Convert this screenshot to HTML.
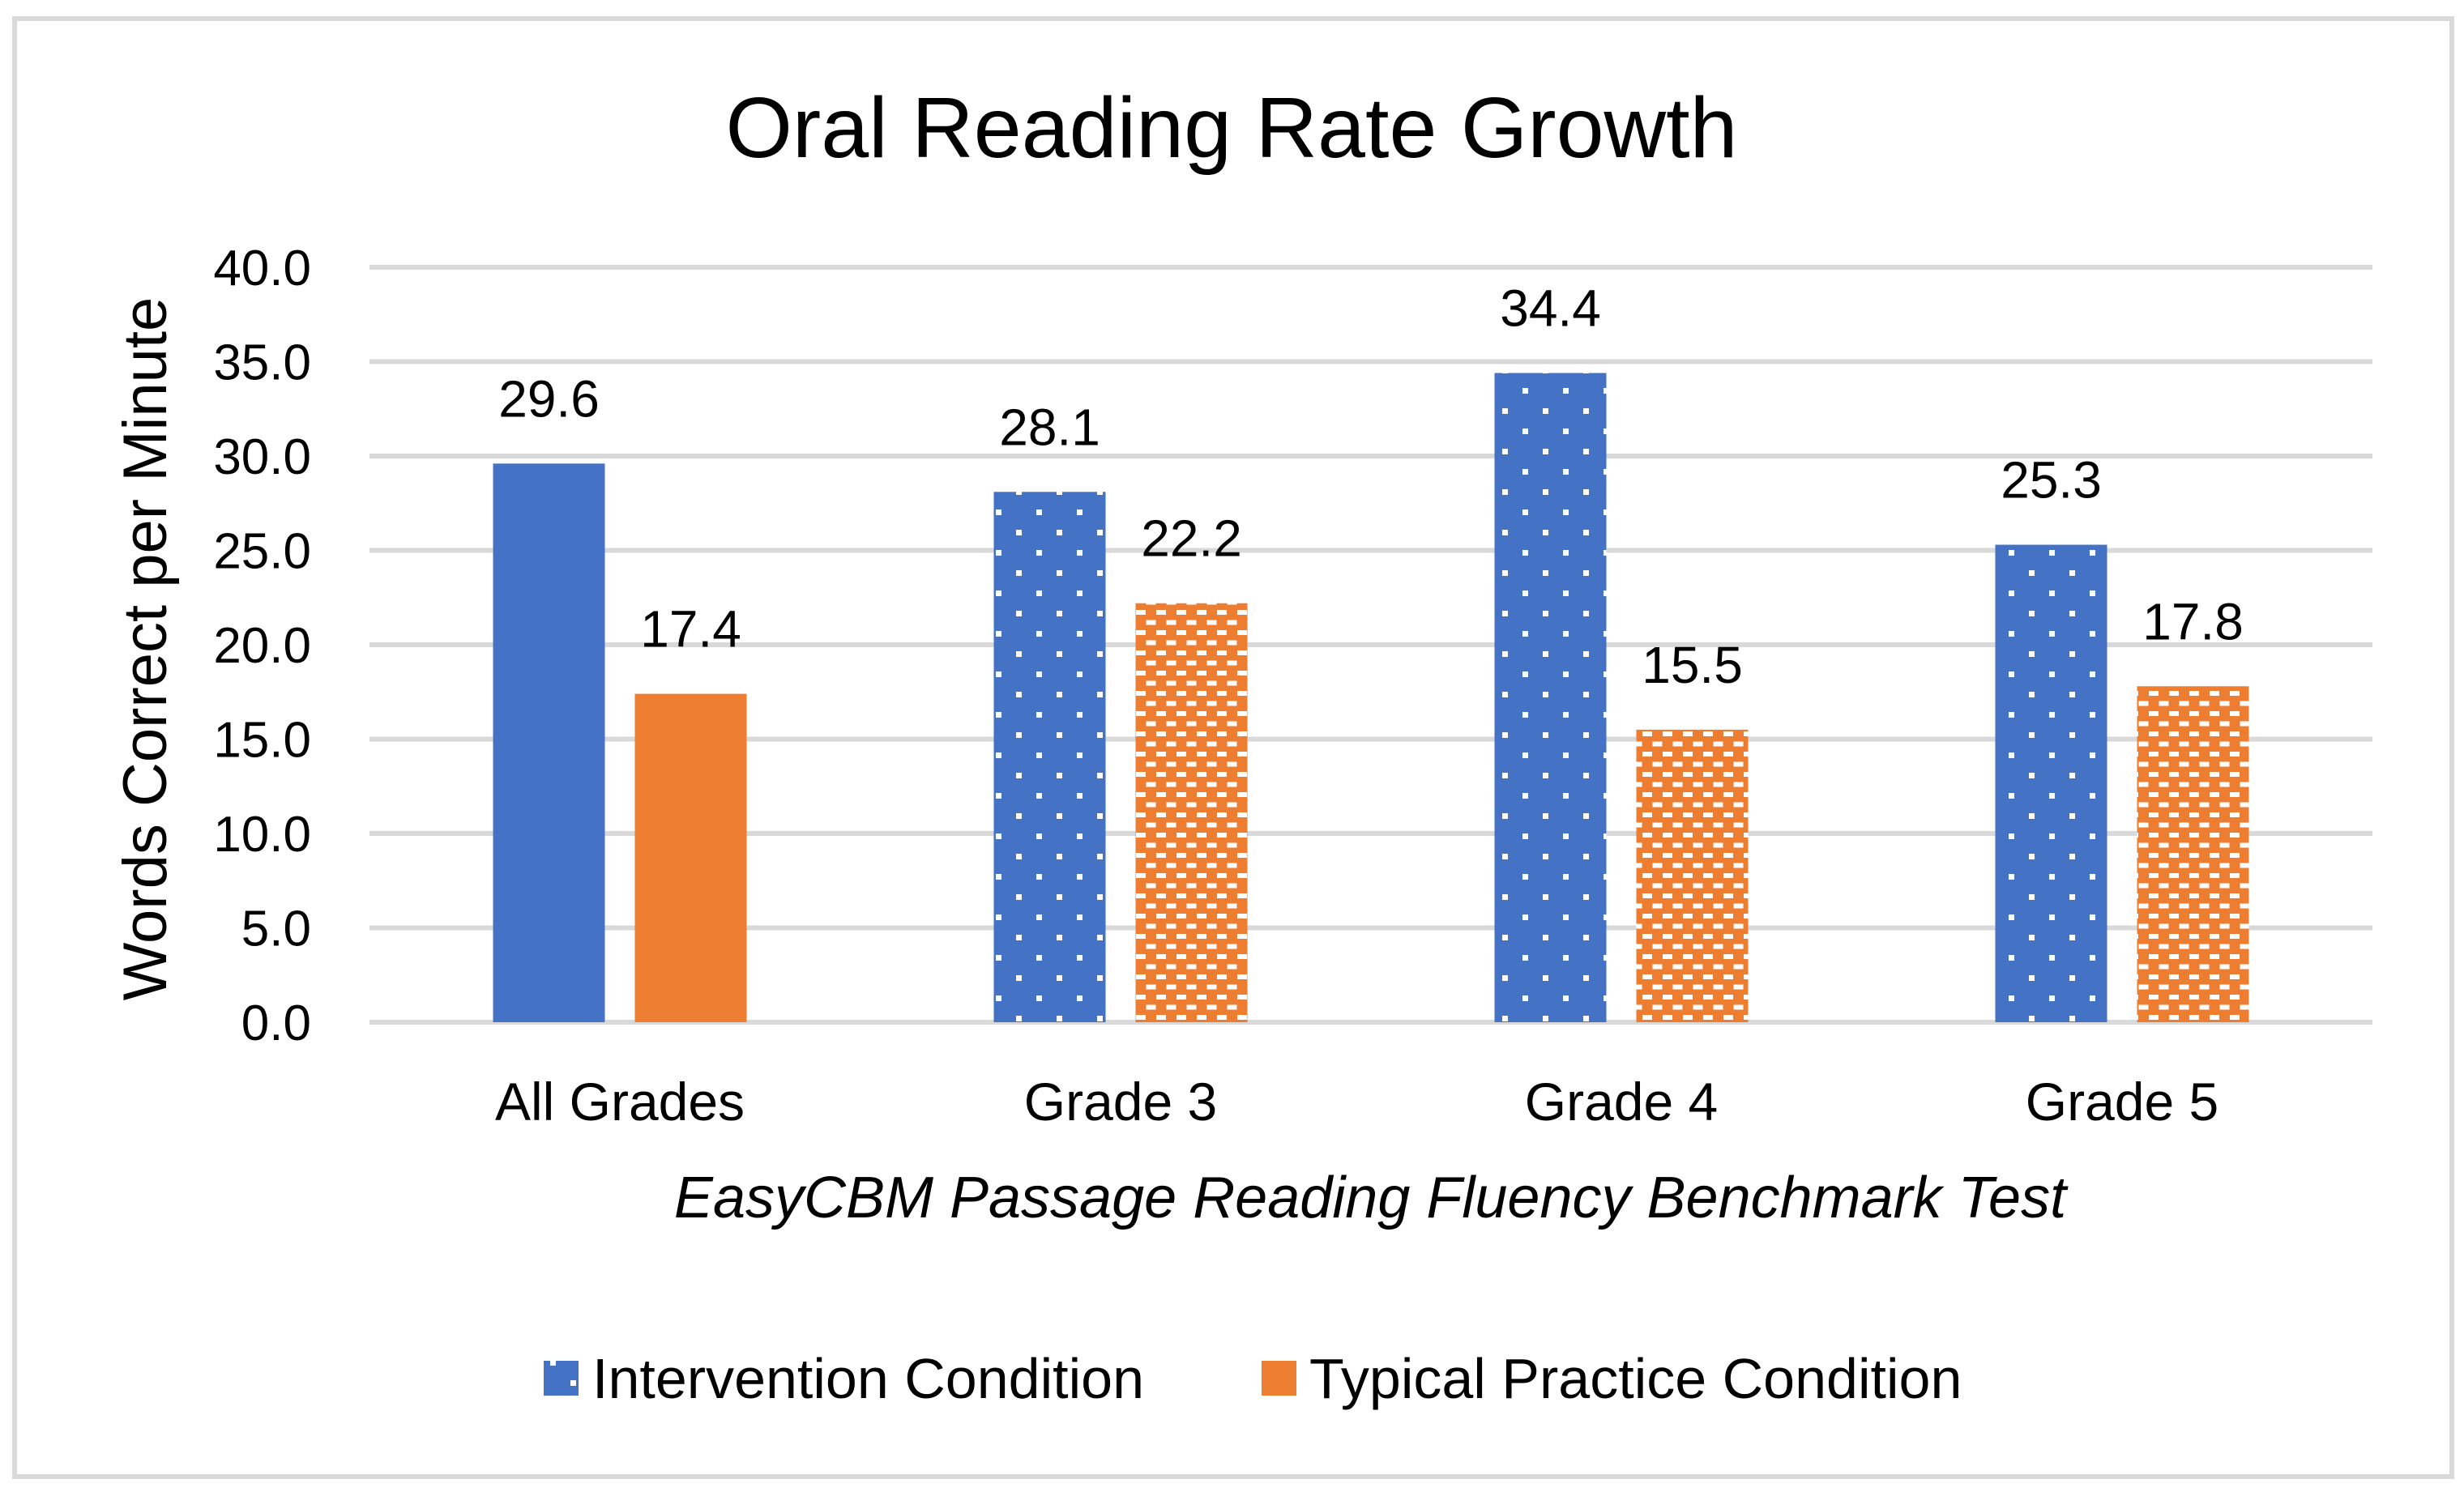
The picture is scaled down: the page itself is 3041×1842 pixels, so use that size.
<!DOCTYPE html>
<html><head><meta charset="utf-8"><style>
html,body{margin:0;padding:0;background:#fff;}
svg{display:block;font-family:"Liberation Sans","DejaVu Sans",sans-serif;}
</style></head><body>
<svg id="chart" width="3041" height="1842" viewBox="0 0 3041 1842" xmlns="http://www.w3.org/2000/svg">
<defs>
<pattern id="dots" width="50" height="50" patternUnits="userSpaceOnUse">
<rect width="50" height="50" fill="#4472c4"/>
<rect x="4" y="4" width="7" height="7" fill="#fff"/>
<rect x="29" y="29" width="7" height="7" fill="#fff"/>
</pattern>
<pattern id="dashes" width="25" height="25" patternUnits="userSpaceOnUse">
<rect width="25" height="25" fill="#ed7d31"/>
<rect x="2" y="3" width="12" height="6" fill="#fff"/>
<rect x="14.5" y="15.5" width="12" height="6" fill="#fff"/>
<rect x="-10.5" y="15.5" width="12" height="6" fill="#fff"/>
</pattern>
</defs>
<rect x="18" y="23" width="3008" height="1800" fill="#fff" stroke="#d9d9d9" stroke-width="6"/>
<text x="1520" y="194" font-size="106" text-anchor="middle" fill="#000">Oral Reading Rate Growth</text>
<g id="grid"></g>
<g id="bars"></g>
<text transform="translate(205,801) rotate(-90)" font-size="76" text-anchor="middle" fill="#000">Words Correct per Minute</text>
<text x="1691" y="1503" font-size="72" font-style="italic" text-anchor="middle" fill="#000">EasyCBM Passage Reading Fluency Benchmark Test</text>
<g>
<g>
<rect x="671" y="1680" width="43" height="43" fill="url(#dots)"/>
<text x="731" y="1726" font-size="70" fill="#000">Intervention Condition</text>
</g>
<g>
<rect x="1557" y="1680" width="43" height="43" fill="#ed7d31"/>
<text x="1616" y="1726" font-size="70" fill="#000">Typical Practice Condition</text>
</g>
</g>
</svg>
<script>
const categories = ["All Grades","Grade 3","Grade 4","Grade 5"];
const intervention = [29.6, 28.1, 34.4, 25.3];
const typical = [17.4, 22.2, 15.5, 17.8];
const yTicks = [0,5,10,15,20,25,30,35,40];

const NS = "http://www.w3.org/2000/svg";
const plotL = 456, plotR = 2928, y0 = 1262, yTop = 330, yMax = 40;
const yScale = v => y0 - (v / yMax) * (y0 - yTop);
const band = (plotR - plotL) / categories.length;
const xCenter = i => plotL + band * (i + 0.5);
const barW = 138, gap = 37;

function mk(tag, attrs, parent) {
  const el = document.createElementNS(NS, tag);
  for (const k in attrs) el.setAttribute(k, attrs[k]);
  parent.appendChild(el);
  return el;
}
const grid = document.getElementById('grid');
const bars = document.getElementById('bars');

yTicks.forEach(t => {
  const y = yScale(t);
  const ln = mk('line', {x1: plotL, x2: plotR, y1: y, y2: y, stroke: '#d9d9d9', 'stroke-width': 6}, grid);
  
  
  const tx = mk('text', {x: 384, y: y + 22, 'font-size': 62, 'text-anchor': 'end', fill: '#000'}, grid);
  tx.textContent = t.toFixed(1);
  
  
});

categories.forEach((c, i) => {
  const cx = xCenter(i);
  const lab = mk('text', {x: cx, y: 1383, 'font-size': 66, 'text-anchor': 'middle', fill: '#000'}, bars);
  lab.textContent = c;
  
  

  const series = [
    {v: intervention[i], x: cx - gap / 2 - barW, fill: i === 0 ? '#4472c4' : 'url(#dots)', n: 'intervention'},
    {v: typical[i], x: cx + gap / 2, fill: i === 0 ? '#ed7d31' : 'url(#dashes)', n: 'typical'}
  ];
  series.forEach(s => {
    const y = yScale(s.v);
    const r = mk('rect', {x: s.x, y: y, width: barW, height: y0 - y, fill: s.fill}, bars);
    
    
    const t = mk('text', {x: s.x + barW / 2, y: y - 58, 'font-size': 64, 'text-anchor': 'middle', fill: '#000'}, bars);
    t.textContent = s.v.toFixed(1);
    
    
  });
});
</script>
</body></html>
